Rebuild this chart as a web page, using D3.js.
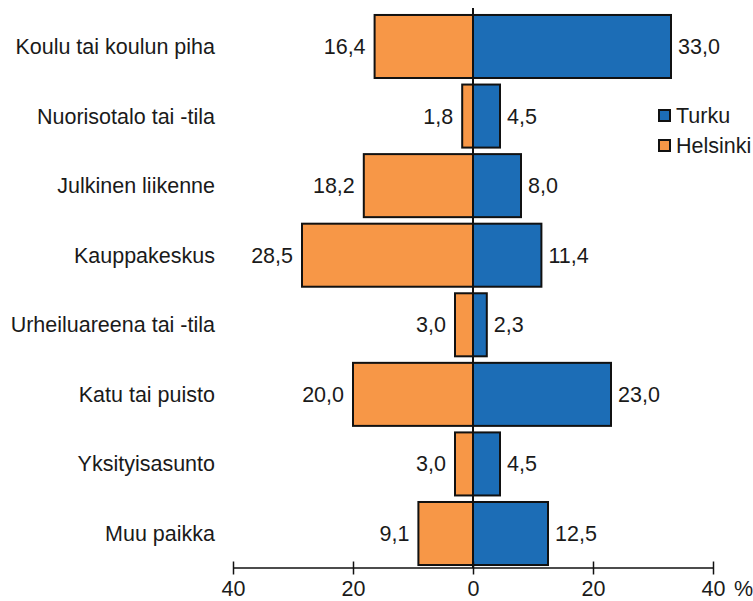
<!DOCTYPE html>
<html>
<head>
<meta charset="utf-8">
<script src="https://cdn.jsdelivr.net/npm/d3@7"></script>
<style>
  body { margin: 0; background: #fff; }
  text { font-family: "Liberation Sans", Arial, sans-serif; fill: #1a1a1a; }
</style>
</head>
<body>
<svg id="chart" width="753" height="601"></svg>
<script>
"use strict";

let places = [
  "Koulu tai koulun piha",
  "Nuorisotalo tai -tila",
  "Julkinen liikenne",
  "Kauppakeskus",
  "Urheiluareena tai -tila",
  "Katu tai puisto",
  "Yksityisasunto",
  "Muu paikka"
];
let turku = [33.0, 4.5, 8.0, 11.4, 2.3, 23.0, 4.5, 12.5];
let helsinki = [16.4, 1.8, 18.2, 28.5, 3.0, 20.0, 3.0, 9.1];
let ticks = [-40, -20, 0, 20, 40];
let seriesNames = ["Turku", "Helsinki"];
let colors = { Turku: "#1c6db6", Helsinki: "#f79747" };

let svg = d3.select("#chart");
let fmt = v => d3.format(".1f")(v).replace(".", ",");
let fs = "21.5px";

let x = d3.scaleLinear().domain([-40, 40]).range([233, 713]);
let y = d3.scaleBand().domain(places).range([11.7, 568.3])
  .paddingInner(0.094).paddingOuter(0.047);

let rows = places.map((p, i) => ({ place: p, turku: turku[i], helsinki: helsinki[i] }));

// helsinki bars to the left
svg.append("g").selectAll("rect").data(rows).enter()
  .append("rect")
  .attr("x", d => x(-d.helsinki))
  .attr("y", d => y(d.place))
  .attr("width", d => x(0) - x(-d.helsinki))
  .attr("height", y.bandwidth())
  .style("fill", colors.Helsinki)
  .style("stroke", "#111")
  .style("stroke-width", 2);

// turku bars to the right
svg.append("g").selectAll("rect").data(rows).enter()
  .append("rect")
  .attr("x", x(0))
  .attr("y", d => y(d.place))
  .attr("width", d => x(d.turku) - x(0))
  .attr("height", y.bandwidth())
  .style("fill", colors.Turku)
  .style("stroke", "#111")
  .style("stroke-width", 2);

// zero line
svg.append("line")
  .attr("x1", x(0)).attr("x2", x(0))
  .attr("y1", 8).attr("y2", 568)
  .style("stroke", "#111").style("stroke-width", 2);

// value labels
svg.append("g").selectAll("text").data(rows).enter()
  .append("text")
  .attr("x", d => x(d.turku) + 7)
  .attr("y", d => y(d.place) + y.bandwidth() / 2)
  .attr("dy", "0.35em")
  .style("font-size", fs)
  .text(d => fmt(d.turku));

svg.append("g").selectAll("text").data(rows).enter()
  .append("text")
  .attr("x", d => x(-d.helsinki) - 9)
  .attr("y", d => y(d.place) + y.bandwidth() / 2)
  .attr("dy", "0.35em")
  .attr("text-anchor", "end")
  .style("font-size", fs)
  .text(d => fmt(d.helsinki));

// category labels
svg.append("g").selectAll("text").data(places).enter()
  .append("text")
  .attr("x", 215)
  .attr("y", d => y(d) + y.bandwidth() / 2)
  .attr("dy", "0.35em")
  .attr("text-anchor", "end")
  .style("font-size", fs)
  .text(d => d);

// bottom axis
let axis = svg.append("g").attr("transform", "translate(0,567.5)")
  .call(d3.axisBottom(x).tickValues(ticks).tickSize(0).tickFormat(d => Math.abs(d)));
axis.select(".domain").style("stroke", "#111").style("stroke-width", 1.5);
axis.selectAll(".tick line").attr("y1", -6).attr("y2", 7)
  .style("stroke", "#111").style("stroke-width", 1.5);
axis.selectAll(".tick text").attr("y", 13)
  .style("font-size", fs).style("font-family", "Liberation Sans, Arial, sans-serif")
  .style("fill", "#1a1a1a");
svg.append("text").attr("x", 734).attr("y", 596)
  .style("font-size", fs).text("%");

// legend
let legend = svg.append("g").selectAll("g").data(seriesNames).enter()
  .append("g")
  .attr("transform", (d, i) => `translate(659,${110 + i * 30})`);
legend.append("rect")
  .attr("width", 11).attr("height", 11)
  .style("fill", d => colors[d])
  .style("stroke", "#111").style("stroke-width", 2);
legend.append("text")
  .attr("x", 17).attr("y", 5.5).attr("dy", "0.35em")
  .style("font-size", fs)
  .text(d => d);
</script>
</body>
</html>
